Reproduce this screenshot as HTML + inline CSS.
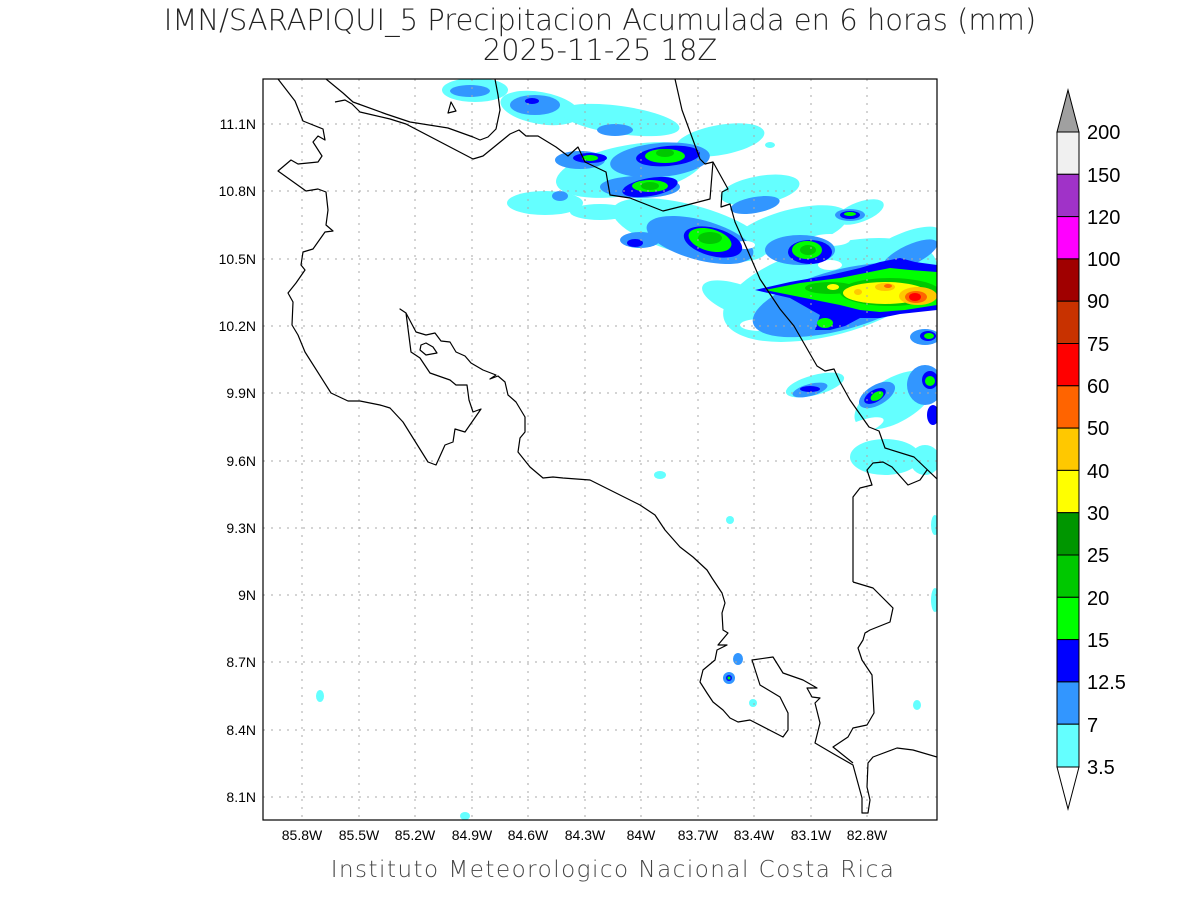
<!DOCTYPE html>
<html><head><meta charset="utf-8"><style>body{margin:0;background:#fff}svg{display:block}</style></head>
<body>
<svg width="1200" height="900" xmlns="http://www.w3.org/2000/svg" font-family="Liberation Sans, DejaVu Sans, sans-serif">
<rect width="1200" height="900" fill="#fff"/>
<text x="600" y="30" text-anchor="middle" font-size="29" font-family="DejaVu Sans, sans-serif" font-weight="300" fill="#222">IMN/SARAPIQUI_5 Precipitacion Acumulada en 6 horas (mm)</text>
<text x="600" y="60" text-anchor="middle" font-size="29" font-family="DejaVu Sans, sans-serif" font-weight="300" fill="#222">2025-11-25 18Z</text>
<defs><clipPath id="c"><rect x="263" y="79" width="674" height="741"/></clipPath></defs>
<g clip-path="url(#c)">
<!-- cyan layer -->
<g fill="#64ffff">
<ellipse cx="475" cy="90" rx="33" ry="12"/>
<ellipse cx="540" cy="108" rx="40" ry="16" transform="rotate(10 540 108)"/>
<ellipse cx="620" cy="120" rx="60" ry="14" transform="rotate(8 620 120)"/>
<ellipse cx="630" cy="170" rx="75" ry="25" transform="rotate(-10 630 170)"/>
<ellipse cx="545" cy="203" rx="38" ry="12"/>
<ellipse cx="600" cy="212" rx="30" ry="8"/>
<ellipse cx="720" cy="140" rx="45" ry="15" transform="rotate(-10 720 140)"/>
<ellipse cx="690" cy="230" rx="80" ry="25" transform="rotate(15 690 230)"/>
<ellipse cx="760" cy="190" rx="40" ry="14" transform="rotate(-10 760 190)"/>
<ellipse cx="790" cy="230" rx="60" ry="20" transform="rotate(-15 790 230)"/>
<ellipse cx="740" cy="300" rx="40" ry="15" transform="rotate(20 740 300)"/>
<ellipse cx="830" cy="290" rx="110" ry="45" transform="rotate(-15 830 290)"/>
<ellipse cx="900" cy="250" rx="45" ry="15" transform="rotate(-25 900 250)"/>
<ellipse cx="860" cy="212" rx="25" ry="10" transform="rotate(-20 860 212)"/>
<ellipse cx="815" cy="385" rx="30" ry="10" transform="rotate(-15 815 385)"/>
<ellipse cx="895" cy="400" rx="45" ry="22" transform="rotate(-30 895 400)"/>
<ellipse cx="885" cy="457" rx="35" ry="18"/>
<ellipse cx="925" cy="460" rx="15" ry="15"/>
<ellipse cx="660" cy="146" rx="8" ry="3"/><ellipse cx="770" cy="145" rx="5" ry="3"/>
<ellipse cx="320" cy="696" rx="4" ry="6"/><ellipse cx="730" cy="520" rx="4" ry="4"/><ellipse cx="660" cy="475" rx="6" ry="4"/><ellipse cx="935" cy="600" rx="4" ry="12"/><ellipse cx="917" cy="705" rx="4" ry="5"/><ellipse cx="465" cy="816" rx="5" ry="4"/><ellipse cx="935" cy="525" rx="4" ry="10"/><ellipse cx="753" cy="703" rx="4" ry="4"/>
</g>
<g fill="#ffffff">
<ellipse cx="700" cy="185" rx="18" ry="6"/><ellipse cx="760" cy="325" rx="20" ry="6"/><ellipse cx="860" cy="428" rx="25" ry="7" transform="rotate(-20 860 428)"/><ellipse cx="910" cy="255" rx="25" ry="8" transform="rotate(-20 910 255)"/><ellipse cx="830" cy="240" rx="20" ry="6"/>
</g>
<!-- light blue -->
<g fill="#3296ff">
<ellipse cx="470" cy="91" rx="20" ry="6"/>
<ellipse cx="535" cy="105" rx="25" ry="10"/>
<ellipse cx="615" cy="130" rx="18" ry="6"/>
<ellipse cx="580" cy="160" rx="25" ry="9"/>
<ellipse cx="660" cy="160" rx="50" ry="17" transform="rotate(-5 660 160)"/>
<ellipse cx="640" cy="187" rx="40" ry="11"/>
<ellipse cx="560" cy="196" rx="8" ry="5"/>
<ellipse cx="700" cy="240" rx="55" ry="20" transform="rotate(15 700 240)"/>
<ellipse cx="640" cy="240" rx="20" ry="8"/>
<ellipse cx="755" cy="205" rx="25" ry="8" transform="rotate(-10 755 205)"/>
<ellipse cx="800" cy="250" rx="35" ry="15"/>
<ellipse cx="840" cy="300" rx="90" ry="30" transform="rotate(-15 840 300)"/>
<ellipse cx="850" cy="215" rx="15" ry="6"/>
<ellipse cx="910" cy="255" rx="30" ry="10" transform="rotate(-25 910 255)"/>
<ellipse cx="810" cy="390" rx="18" ry="6" transform="rotate(-15 810 390)"/>
<ellipse cx="877" cy="395" rx="20" ry="10" transform="rotate(-30 877 395)"/>
<ellipse cx="925" cy="385" rx="18" ry="20"/>
<ellipse cx="925" cy="337" rx="15" ry="8"/>
<ellipse cx="738" cy="659" rx="5" ry="6"/><circle cx="729" cy="678" r="6"/>
</g>
<g fill="#ffffff">
<ellipse cx="830" cy="265" rx="12" ry="5"/><ellipse cx="745" cy="245" rx="10" ry="4"/>
</g>
<!-- blue -->
<g fill="#0000ff">
<ellipse cx="532" cy="101" rx="7" ry="3"/>
<ellipse cx="590" cy="158" rx="17" ry="5"/>
<ellipse cx="668" cy="156" rx="32" ry="10" transform="rotate(-5 668 156)"/>
<ellipse cx="650" cy="187" rx="28" ry="9" transform="rotate(-10 650 187)"/>
<ellipse cx="635" cy="243" rx="8" ry="4"/>
<ellipse cx="713" cy="242" rx="30" ry="14" transform="rotate(15 713 242)"/>
<ellipse cx="850" cy="215" rx="10" ry="4"/>
<ellipse cx="810" cy="252" rx="22" ry="12"/>
<polygon points="755,290 790,282 830,275 860,268 880,262 900,258 915,262 937,265 937,310 900,314 880,318 860,318 845,326 830,330 815,330 820,315 790,298"/>
<ellipse cx="875" cy="396" rx="12" ry="6" transform="rotate(-30 875 396)"/><ellipse cx="930" cy="380" rx="8" ry="9"/><ellipse cx="928" cy="336" rx="8" ry="5"/><ellipse cx="810" cy="389" rx="10" ry="3"/><ellipse cx="933" cy="415" rx="6" ry="10"/>
<circle cx="729" cy="678" r="3"/>
</g>
<!-- green -->
<g fill="#00ff00">
<ellipse cx="590" cy="158" rx="8" ry="3"/>
<ellipse cx="665" cy="156" rx="20" ry="7"/>
<ellipse cx="650" cy="186" rx="18" ry="6"/>
<ellipse cx="710" cy="240" rx="22" ry="11" transform="rotate(15 710 240)"/>
<ellipse cx="807" cy="250" rx="15" ry="9"/>
<ellipse cx="825" cy="323" rx="8" ry="5"/>
<polygon points="765,290 800,283 840,278 870,272 890,268 910,270 937,272 937,305 905,310 880,312 860,310 840,305 800,297"/>
<ellipse cx="877" cy="396" rx="7" ry="4" transform="rotate(-30 877 396)"/><ellipse cx="930" cy="381" rx="5" ry="5"/><ellipse cx="929" cy="336" rx="5" ry="3"/><ellipse cx="850" cy="214" rx="6" ry="2"/>
</g>
<g fill="#00c800">
<ellipse cx="665" cy="153" rx="9" ry="4"/><ellipse cx="650" cy="186" rx="9" ry="4"/><ellipse cx="710" cy="238" rx="12" ry="6"/><ellipse cx="808" cy="250" rx="8" ry="5"/>
<ellipse cx="830" cy="288" rx="25" ry="6"/><ellipse cx="890" cy="292" rx="50" ry="14"/>
</g>
<g fill="#ffff00"><ellipse cx="885" cy="293" rx="42" ry="11"/><ellipse cx="833" cy="287" rx="6" ry="3"/></g>
<g fill="#ffc800"><ellipse cx="918" cy="296" rx="19" ry="9"/><ellipse cx="885" cy="287" rx="10" ry="4"/><ellipse cx="858" cy="292" rx="4" ry="3"/></g>
<g fill="#ff6400"><ellipse cx="916" cy="297" rx="11" ry="6"/><ellipse cx="888" cy="286" rx="4" ry="2"/></g>
<g fill="#ff0000"><ellipse cx="915" cy="297" rx="6" ry="4"/></g>
<circle cx="729" cy="678" r="1.5" fill="#00ff00"/>
<!-- grid -->
<g stroke="#aaa" stroke-width="1" stroke-dasharray="2,6">
<line x1="302" y1="79" x2="302" y2="820"/><line x1="359" y1="79" x2="359" y2="820"/><line x1="415" y1="79" x2="415" y2="820"/><line x1="472" y1="79" x2="472" y2="820"/><line x1="528" y1="79" x2="528" y2="820"/><line x1="585" y1="79" x2="585" y2="820"/><line x1="641" y1="79" x2="641" y2="820"/><line x1="698" y1="79" x2="698" y2="820"/><line x1="754" y1="79" x2="754" y2="820"/><line x1="811" y1="79" x2="811" y2="820"/><line x1="867" y1="79" x2="867" y2="820"/>
<line x1="263" y1="124" x2="937" y2="124"/><line x1="263" y1="191" x2="937" y2="191"/><line x1="263" y1="259" x2="937" y2="259"/><line x1="263" y1="326" x2="937" y2="326"/><line x1="263" y1="393" x2="937" y2="393"/><line x1="263" y1="461" x2="937" y2="461"/><line x1="263" y1="528" x2="937" y2="528"/><line x1="263" y1="595" x2="937" y2="595"/><line x1="263" y1="662" x2="937" y2="662"/><line x1="263" y1="730" x2="937" y2="730"/><line x1="263" y1="797" x2="937" y2="797"/>
</g>
<!-- coast -->
<g fill="none" stroke="#000" stroke-width="1.2" stroke-linejoin="round">
<polyline points="278,79 295,101 303,121 323,129 325,140 318,136 313,142 322,156 318,162 298,164 291,160 278,171 306,191 318,189 326,192 328,210 326,225 333,231 325,232 313,249 303,252 301,265 305,270 296,283 288,293 293,302 292,325 298,335 305,352 331,393 348,401 360,401 380,405 390,408 403,422 428,462 436,465 445,445 453,442 455,429 465,432 481,409 473,412 469,400 467,385 456,385 450,380 430,373 420,358 411,352 406,313 400,309 406,313 416,332 426,335 435,333 441,341 450,342 456,352 465,356 471,363 483,370 496,375 490,379 498,376 505,382 508,395 516,402 525,417 525,432 520,438 518,452 530,467 543,478 553,477 563,478 590,480 610,490 640,505 655,515 665,530 680,547 693,557 707,570 712,578 722,593 725,603 722,613 723,630 728,633 718,645 727,645 717,650 715,660 703,670 700,682 707,693 713,702 723,710 730,718 738,722 750,720 783,737 788,730 788,713 780,697 760,685 752,660 773,657 783,673 803,680 817,688 807,688 812,697 820,698 815,703 820,723 815,743 832,753 853,765 862,798 862,813 868,813 870,800 867,787 868,763 873,757 897,748 913,750 937,757"/>
<polygon points="421,345 426,343 433,347 437,353 426,355 420,350"/>
<polyline points="326,79 343,93 353,102 386,114 410,122 448,128 473,137 480,140 488,137 496,129 500,110 498,95 495,79"/>
<polygon points="451,102 456,111 448,113"/>
<polyline points="335,102 345,100 352,104 360,112 390,119 406,124 473,159 483,156 510,134 519,130 526,136 538,136 556,147 568,156 578,147 585,162 606,172 610,195 630,198 663,211 683,206 710,199 713,162"/>
<polyline points="675,79 682,110 700,159 705,164 713,162 728,189 722,192 721,207 730,204 735,222 747,249 760,279 780,309 794,326 817,366 825,371 834,369 840,382 850,400 869,427 879,431 885,448 914,457 937,479"/>
<polyline points="853,582 853,497 860,488 872,485 867,470 873,463 883,462 892,467 908,485 920,480 927,470"/>
<polyline points="853,582 873,588 882,597 893,608 890,622 870,630 865,633 863,640 858,648 862,660 872,675 874,713 867,725 853,728 848,737 833,747 853,763"/>
</g>
</g>
<rect x="263" y="79" width="674" height="741" fill="none" stroke="#000" stroke-width="1.2"/>
<g font-size="14" fill="#000" text-anchor="end">
<text x="256" y="129">11.1N</text><text x="256" y="196">10.8N</text><text x="256" y="264">10.5N</text><text x="256" y="331">10.2N</text><text x="256" y="398">9.9N</text><text x="256" y="466">9.6N</text><text x="256" y="533">9.3N</text><text x="256" y="600">9N</text><text x="256" y="667">8.7N</text><text x="256" y="735">8.4N</text><text x="256" y="802">8.1N</text>
</g>
<g font-size="14" fill="#000" text-anchor="middle">
<text x="302" y="840">85.8W</text><text x="359" y="840">85.5W</text><text x="415" y="840">85.2W</text><text x="472" y="840">84.9W</text><text x="528" y="840">84.6W</text><text x="585" y="840">84.3W</text><text x="641" y="840">84W</text><text x="698" y="840">83.7W</text><text x="754" y="840">83.4W</text><text x="811" y="840">83.1W</text><text x="867" y="840">82.8W</text>
</g>
<text x="613" y="877" text-anchor="middle" font-size="23" font-family="DejaVu Sans, sans-serif" font-weight="300" fill="#444" letter-spacing="1.5">Instituto Meteorologico Nacional Costa Rica</text>
<g stroke="#000" stroke-width="1">
<polygon points="1057,132 1079,132 1068,90" fill="#a0a0a0"/>
<rect x="1057" y="132" width="22" height="42.3" fill="#f0f0f0"/>
<rect x="1057" y="174.3" width="22" height="42.3" fill="#a032c8"/>
<rect x="1057" y="216.6" width="22" height="42.3" fill="#ff00ff"/>
<rect x="1057" y="258.9" width="22" height="42.3" fill="#a00000"/>
<rect x="1057" y="301.2" width="22" height="42.3" fill="#c83200"/>
<rect x="1057" y="343.5" width="22" height="42.3" fill="#ff0000"/>
<rect x="1057" y="385.8" width="22" height="42.3" fill="#ff6400"/>
<rect x="1057" y="428.1" width="22" height="42.3" fill="#ffc800"/>
<rect x="1057" y="470.4" width="22" height="42.3" fill="#ffff00"/>
<rect x="1057" y="512.7" width="22" height="42.3" fill="#009600"/>
<rect x="1057" y="555" width="22" height="42.3" fill="#00c800"/>
<rect x="1057" y="597.3" width="22" height="42.3" fill="#00ff00"/>
<rect x="1057" y="639.6" width="22" height="42.3" fill="#0000ff"/>
<rect x="1057" y="681.9" width="22" height="42.3" fill="#3296ff"/>
<rect x="1057" y="724.2" width="22" height="42.8" fill="#64ffff"/>
<polygon points="1057,767 1079,767 1068,809" fill="#fff"/>
</g>
<g font-size="20" fill="#000">
<text x="1087" y="139">200</text><text x="1087" y="182">150</text><text x="1087" y="224">120</text><text x="1087" y="266">100</text><text x="1087" y="308">90</text><text x="1087" y="351">75</text><text x="1087" y="393">60</text><text x="1087" y="435">50</text><text x="1087" y="478">40</text><text x="1087" y="520">30</text><text x="1087" y="562">25</text><text x="1087" y="605">20</text><text x="1087" y="647">15</text><text x="1087" y="689">12.5</text><text x="1087" y="732">7</text><text x="1087" y="774">3.5</text>
</g>
</svg>
</body></html>
